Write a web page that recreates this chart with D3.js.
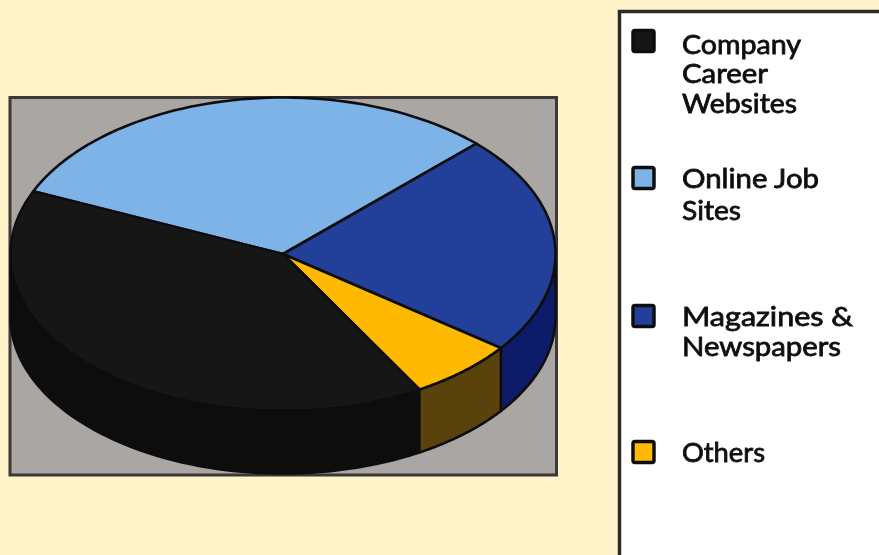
<!DOCTYPE html>
<html><head><meta charset="utf-8">
<script src="https://cdn.jsdelivr.net/npm/d3@7/dist/d3.min.js"></script>
<style>html,body{margin:0;padding:0;background:#fef3c9;overflow:hidden}svg{display:block}</style>
</head><body><svg id="c" width="879" height="555"></svg>
<script>
const categories = ["Online Job Sites","Magazines & Newspapers","Others","Company Career Websites"];
const values = [31,22.7,6.4,39.9];
const topColors = ["#7db3e6","#21409a","#ffb900","#171717"];
const sideColors = ["#5c86ad","#0e1a68","#5a4210","#0a0a0a"];
const legendLabels = [["Company","Career","Websites"],["Online Job","Sites"],["Magazines &","Newspapers"],["Others"]];
const legendColors = ["#171717","#7db3e6","#21409a","#ffb900"];
const legendY = [41,178,316,452];

const svg = d3.select("#c");
const defs = svg.append("defs");
defs.append("filter").attr("id","soft").attr("x","-5%").attr("y","-5%").attr("width","110%").attr("height","110%")
  .append("feGaussianBlur").attr("stdDeviation",0.7);
const root = svg.append("g").attr("filter","url(#soft)");

root.append("rect").attr("x",10).attr("y",97.5).attr("width",546.5).attr("height",377.5)
  .attr("fill","#aaa6a4").attr("stroke","#3a3734").attr("stroke-width",3);

const cx=283, cy=254, rx=272.5, ry=156.5, depth=63;
const start=-66.4*Math.PI/180;
const pie=d3.pie().sort(null).value(d=>d).startAngle(start).endAngle(start+2*Math.PI);
const arcs=pie(values);
const sx=d3.scaleLinear().domain([-1,1]).range([cx-rx,cx+rx]);
const sy=d3.scaleLinear().domain([-1,1]).range([cy-ry,cy+ry]);
const pt=(a,dz=0)=>[sx(Math.sin(a)),sy(-Math.cos(a))+dz];
const rimPts=(a0,a1)=>d3.range(0,61).map(i=>a0+(a1-a0)*i/60);
const line=d3.line();

const order=[1,3,2];
order.forEach(i=>{
  const a=arcs[i];
  const lo=Math.max(a.startAngle,Math.PI/2), hi=Math.min(a.endAngle,3*Math.PI/2);
  if(hi<=lo) return;
  const as=rimPts(lo,hi);
  const p=as.map(t=>pt(t)).concat(as.slice().reverse().map(t=>pt(t,depth)));
  root.append("path").attr("d",line(p)+"Z").attr("fill",sideColors[i])
    .attr("stroke","#111").attr("stroke-width",2.6).attr("stroke-linejoin","round");
});
arcs.forEach((a,i)=>{
  const p=[[cx,cy]].concat(rimPts(a.startAngle,a.endAngle).map(t=>pt(t)));
  root.append("path").attr("d",line(p)+"Z").attr("fill",topColors[i])
    .attr("stroke","#111").attr("stroke-width",2.6).attr("stroke-linejoin","round");
});

root.append("rect").attr("x",619.5).attr("y",11.5).attr("width",300).attr("height",600)
  .attr("fill","#fff").attr("stroke","#2e2c2a").attr("stroke-width",3.5);
legendLabels.forEach((lines,i)=>{
  root.append("rect").attr("x",633).attr("y",legendY[i]-10.5).attr("width",21).attr("height",21).attr("rx",2)
    .attr("fill",legendColors[i]).attr("stroke","#111").attr("stroke-width",3.5);
});
const textY=[[54,83,113],[188,220],[326,356],[462]];
const textW=[[119,86,115],[137,59],[171,159],[83]];
legendLabels.forEach((lines,i)=>{
  lines.forEach((t,j)=>{
    root.append("text").attr("x",682).attr("y",textY[i][j]).text(t)
      .attr("textLength",textW[i][j]).attr("lengthAdjust","spacingAndGlyphs")
      .attr("font-family","Lato, sans-serif").attr("font-size",26.5).attr("fill","#111")
      .attr("stroke","#111").attr("stroke-width",0.8);
  });
});
</script></body></html>
